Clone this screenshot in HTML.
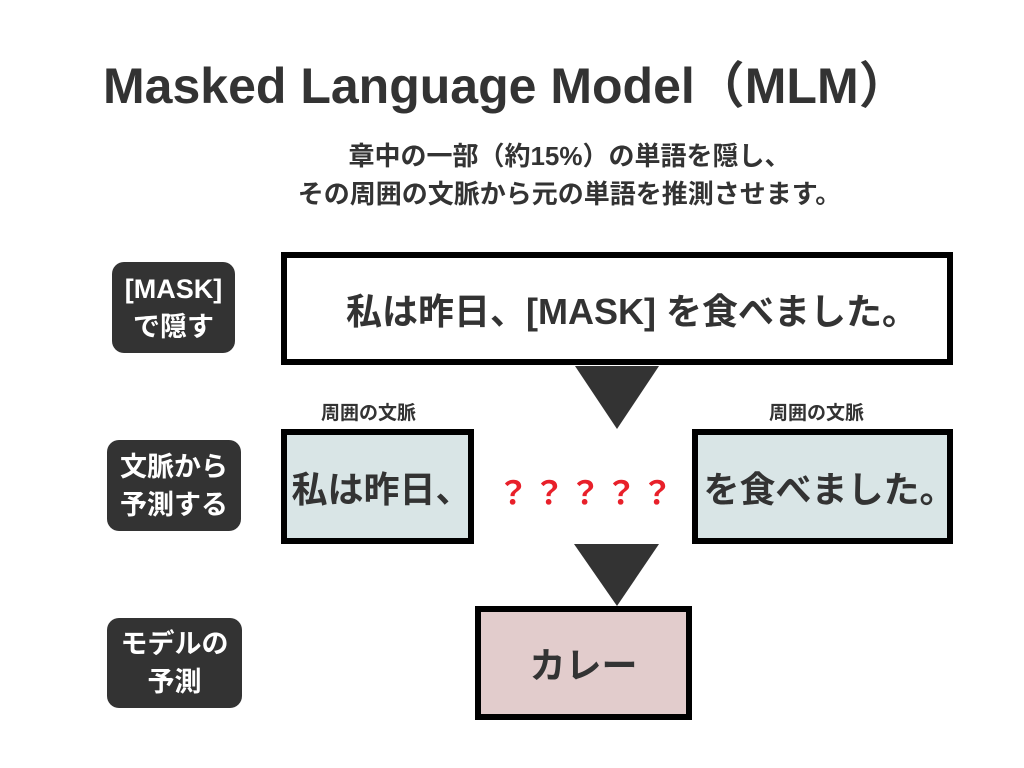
<!DOCTYPE html>
<html><head><meta charset="utf-8"><style>
body{margin:0;width:1024px;height:768px;background:#fff;position:relative;overflow:hidden;font-family:"Liberation Sans","Noto Sans CJK JP",sans-serif;color:#333;font-weight:bold}
.a{position:absolute;box-sizing:border-box}
.lbl{background:#333;color:#fff;border-radius:12px;display:flex;align-items:center;justify-content:center;text-align:center;font-size:27px;line-height:38px}
.box{border:6px solid #000;display:flex;align-items:center;justify-content:center;font-size:36px;white-space:nowrap}
.t{white-space:nowrap}
</style></head><body>
<div class="a t" style="left:103px;top:46px;font-size:50px;">Masked Language Model（MLM）</div>
<div class="a t" style="left:0;width:1024px;top:137px;text-align:center;font-size:26px;line-height:38px;padding-left:115px">章中の一部（約15%）の単語を隠し、<br>その周囲の文脈から元の単語を推測させます。</div>
<div class="a lbl" style="left:112px;top:262px;width:123px;height:91px">[MASK]<br>で隠す</div>
<div class="a lbl" style="left:107px;top:440px;width:134px;height:91px">文脈から<br>予測する</div>
<div class="a lbl" style="left:107px;top:618px;width:135px;height:90px">モデルの<br>予測</div>
<div class="a box" style="left:281px;top:252px;width:672px;height:113px;padding-left:30px">私は昨日、[MASK] を食べました。</div>
<svg class="a" style="left:0;top:0" width="1024" height="768"><polygon points="575,366 659,366 617,429" fill="#333"/><polygon points="574,544 659,544 617,606" fill="#333"/></svg>
<div class="a t" style="left:272px;width:193px;top:398px;text-align:center;font-size:19px">周囲の文脈</div>
<div class="a t" style="left:686px;width:261px;top:398px;text-align:center;font-size:19px">周囲の文脈</div>
<div class="a box" style="left:281px;top:429px;width:193px;height:115px;background:#d9e5e6;padding-left:8px">私は昨日、</div>
<div class="a box" style="left:692px;top:429px;width:261px;height:115px;background:#d9e5e6;padding-left:14px">を食べました。</div>
<div class="a t" style="left:497px;top:468px;color:#e8202a;font-size:32px;letter-spacing:4px">？？？？？</div>
<div class="a box" style="left:475px;top:606px;width:217px;height:114px;background:#e2cccc">カレー</div>
</body></html>
